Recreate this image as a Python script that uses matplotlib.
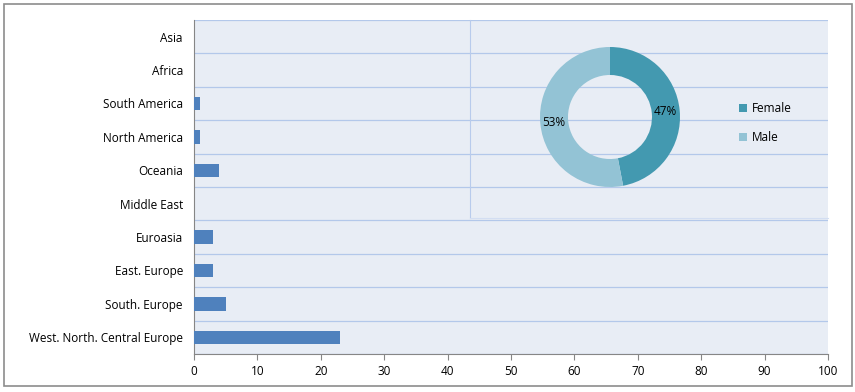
import matplotlib
matplotlib.use("Agg")
import matplotlib.pyplot as plt
from matplotlib.patches import Rectangle
import numpy as np

plt.rcParams["font.family"] = ["Open Sans", "DejaVu Sans"]

# ── data ──────────────────────────────────────────────
regions = ["West. North. Central Europe", "South. Europe", "East. Europe", "Euroasia",
           "Middle East", "Oceania", "North America", "South America", "Africa", "Asia"]
counts = [23, 5, 3, 3, 0, 4, 1, 1, 0, 0]
x_ticks = [0, 10, 20, 30, 40, 50, 60, 70, 80, 90, 100]

gender_labels = ["Female", "Male"]
gender_share = [47, 53]

BG = "#e8edf5"
GRID = "#b3c8ea"
BAR = "#4f81bd"
PIE_COLORS = ["#4399b0", "#93c3d5"]

W, H = 855, 392
fig = plt.figure(figsize=(W / 100, H / 100), dpi=100)

# outer frame
fig.patches.append(Rectangle((4 / W, 1 - 386 / H), 848 / W, 382 / H, transform=fig.transFigure,
                             fill=False, edgecolor="#8c8c8c", linewidth=1.2))

# ── bar chart ─────────────────────────────────────────
ax = fig.add_axes([194 / W, 1 - 354 / H, 634 / W, 334 / H])
ax.set_facecolor(BG)
y = np.arange(len(regions))
ax.barh(y, counts, height=0.4, color=BAR, zorder=3)
ax.set_xlim(0, 100)
ax.set_ylim(-0.5, len(regions) - 0.5)
ax.set_xticks(x_ticks)
ax.set_yticks(y)
ax.set_yticklabels(regions)
ax.set_yticks(np.arange(len(regions) + 1) - 0.5, minor=True)
ax.grid(True, axis="y", which="minor", color=GRID, linewidth=0.9, zorder=1)
ax.tick_params(axis="y", which="both", length=0, labelsize=8.5, pad=8)
ax.tick_params(axis="x", length=4, labelsize=8.5, color="#868686", pad=4)
for s in ["top", "right"]:
    ax.spines[s].set_visible(False)
for s in ["left", "bottom"]:
    ax.spines[s].set_color("#868686")

# ── donut inset ───────────────────────────────────────
frame = fig.add_axes([470 / W, 1 - 218 / H, 358 / W, 198 / H])
frame.patch.set_alpha(0)
frame.set_xticks([])
frame.set_yticks([])
for s in ["top", "right"]:
    frame.spines[s].set_visible(False)
frame.spines["left"].set_color("#b8cbec")
frame.spines["bottom"].set_color("#d3def2")

R = 70
pax = fig.add_axes([(610 - R) / W, 1 - (117 + R) / H, 2 * R / W, 2 * R / H])
wedges, _, autotexts = pax.pie(gender_share, colors=PIE_COLORS, startangle=90, counterclock=False,
                               autopct=lambda p: f"{round(p)}%", pctdistance=0.8,
                               wedgeprops=dict(width=0.4, edgecolor="none"),
                               textprops=dict(fontsize=8.5, color="black"))
pax.set_xlim(-1, 1)
pax.set_ylim(-1, 1)
pax.set_aspect("equal")

fig.legend(wedges, gender_labels, loc="center left", bbox_to_anchor=(728 / W, 1 - 123 / H),
           frameon=False, fontsize=8.5, handlelength=0.7, handleheight=0.7, handletextpad=0.4,
           labelspacing=1.35)

fig.savefig("out.png", dpi=100)
